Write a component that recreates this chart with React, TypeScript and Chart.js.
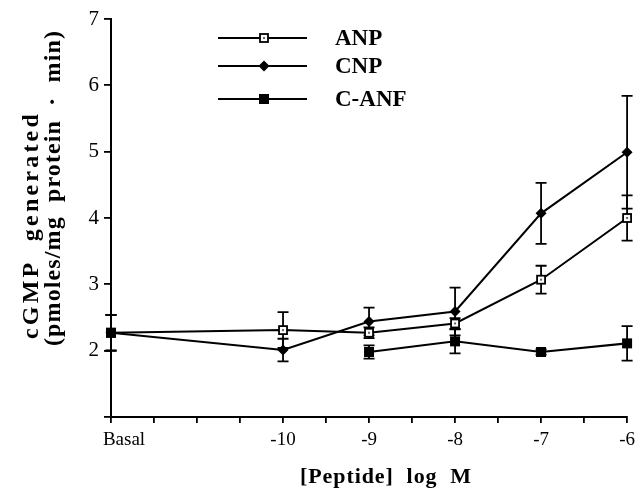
import React, { useEffect, useRef } from "react";
import { Chart, registerables } from "chart.js";

Chart.register(...registerables);

const xValues = [-12, -10, -9, -8, -7, -6];
const anpValues = [2.27, 2.31, 2.27, 2.41, 3.07, 4.0];
const anpErrors = [0.27, 0.27, 0.08, 0.08, 0.21, 0.34];
const cnpValues = [2.27, 2.01, 2.44, 2.59, 4.07, 4.99];
const cnpErrors = [0.27, 0.17, 0.21, 0.36, 0.46, 0.85];
const canfValues: (number | null)[] = [2.27, null, 1.98, 2.14, 1.98, 2.11];
const canfErrors: (number | null)[] = [0.27, null, 0.1, 0.18, 0.04, 0.26];

const xTickValues = [-12, -10, -9, -8, -7, -6];
const xTickLabels = ["Basal", "-10", "-9", "-8", "-7", "-6"];
const yTickValues = [2, 3, 4, 5, 6, 7];

const seriesNames = ["ANP", "CNP", "C-ANF"];
const xTitle = "[Peptide]  log  M";
const yTitleLines = ["cGMP  generated", "(pmoles/mg  protein  ·  min)"];

const SERIF = "'Liberation Serif', 'Times New Roman', serif";

function toPoints(vals: (number | null)[]) {
  return xValues.map((x, i) => ({ x, y: vals[i] }));
}

const errorSets = [anpErrors, cnpErrors, canfErrors];

function drawMarker(ctx: CanvasRenderingContext2D, style: string, x: number, y: number) {
  ctx.save();
  ctx.lineWidth = 1.8;
  ctx.strokeStyle = "#000";
  if (style === "open") {
    ctx.fillStyle = "#fff";
    ctx.fillRect(x - 4, y - 4, 8, 8);
    ctx.strokeRect(x - 4, y - 4, 8, 8);
    ctx.fillStyle = "#666";
    ctx.fillRect(x - 1, y - 1, 2, 2);
  } else if (style === "diamond") {
    ctx.fillStyle = "#000";
    ctx.beginPath();
    ctx.moveTo(x, y - 5.5);
    ctx.lineTo(x + 5.5, y);
    ctx.lineTo(x, y + 5.5);
    ctx.lineTo(x - 5.5, y);
    ctx.closePath();
    ctx.fill();
  } else {
    ctx.fillStyle = "#000";
    ctx.fillRect(x - 5, y - 5, 10, 10);
  }
  ctx.restore();
}

const markerStyles = ["open", "diamond", "square"];

function fitText(ctx: CanvasRenderingContext2D, text: string, target: number) {
  (ctx as any).letterSpacing = "0px";
  const w = ctx.measureText(text).width;
  const ls = Math.max(0, (target - w) / text.length);
  (ctx as any).letterSpacing = `${ls}px`;
}

const customPlugin = {
  id: "customDraw",
  beforeDatasetsDraw(chart: any) {
    const ctx = chart.ctx as CanvasRenderingContext2D;
    const xs = chart.scales.x;
    const ys = chart.scales.y;
    ctx.save();
    ctx.strokeStyle = "#000";
    ctx.lineWidth = 1.8;
    chart.data.datasets.forEach((ds: any, di: number) => {
      const errs = errorSets[di];
      ds.data.forEach((p: any, i: number) => {
        const e = errs[i];
        if (p.y == null || e == null) return;
        const px = xs.getPixelForValue(p.x);
        const top = ys.getPixelForValue(p.y + e);
        const bot = ys.getPixelForValue(p.y - e);
        ctx.beginPath();
        ctx.moveTo(px, top);
        ctx.lineTo(px, bot);
        ctx.moveTo(px - 5.5, top);
        ctx.lineTo(px + 5.5, top);
        ctx.moveTo(px - 5.5, bot);
        ctx.lineTo(px + 5.5, bot);
        ctx.stroke();
      });
    });
    ctx.restore();
  },
  afterDatasetsDraw(chart: any) {
    const ctx = chart.ctx as CanvasRenderingContext2D;
    const xs = chart.scales.x;
    const ys = chart.scales.y;
    // markers
    chart.data.datasets.forEach((ds: any, di: number) => {
      ds.data.forEach((p: any) => {
        if (p.y == null) return;
        drawMarker(ctx, markerStyles[di], xs.getPixelForValue(p.x), ys.getPixelForValue(p.y));
      });
    });
    ctx.save();
    // "Basal" label, nudged right of its tick as in the original
    ctx.fillStyle = "#000";
    ctx.font = `19px ${SERIF}`;
    ctx.textAlign = "center";
    ctx.textBaseline = "middle";
    ctx.fillText(xTickLabels[0], xs.getPixelForValue(xTickValues[0]) + 13, 440);
    // legend
    const rows = [38, 66, 99];
    seriesNames.forEach((name, i) => {
      ctx.strokeStyle = "#000";
      ctx.lineWidth = 2;
      ctx.beginPath();
      ctx.moveTo(218, rows[i]);
      ctx.lineTo(307, rows[i]);
      ctx.stroke();
      drawMarker(ctx, markerStyles[i], 264, rows[i]);
      ctx.fillStyle = "#000";
      ctx.font = `bold 23px ${SERIF}`;
      ctx.textAlign = "left";
      ctx.textBaseline = "middle";
      ctx.fillText(name, 335, rows[i] + 1);
    });
    // axis titles
    ctx.font = `bold 22px ${SERIF}`;
    ctx.textBaseline = "middle";
    ctx.textAlign = "center";
    fitText(ctx, xTitle, 172);
    ctx.fillText(xTitle, 386, 477);
    ctx.font = `bold 24px ${SERIF}`;
    ctx.save();
    ctx.translate(32, 339);
    ctx.rotate(-Math.PI / 2);
    ctx.textAlign = "left";
    fitText(ctx, yTitleLines[0], 228);
    ctx.fillText(yTitleLines[0], 0, 0);
    ctx.restore();
    ctx.save();
    ctx.translate(54, 346);
    ctx.rotate(-Math.PI / 2);
    ctx.textAlign = "left";
    fitText(ctx, yTitleLines[1], 316);
    ctx.fillText(yTitleLines[1], 0, 0);
    ctx.restore();
    (ctx as any).letterSpacing = "0px";
    ctx.restore();
  },
};

export default function App() {
  const ref = useRef<HTMLCanvasElement | null>(null);
  useEffect(() => {
    document.body.style.margin = "0";
    const canvas = ref.current!;
    const chart = new Chart(canvas, {
      type: "scatter",
      data: {
        datasets: [
          { label: seriesNames[0], data: toPoints(anpValues) },
          { label: seriesNames[1], data: toPoints(cnpValues) },
          { label: seriesNames[2], data: toPoints(canfValues) },
        ].map((d) => ({
          ...d,
          showLine: true,
          spanGaps: false,
          borderColor: "#000",
          borderWidth: 2,
          pointRadius: 0,
          pointHoverRadius: 0,
          backgroundColor: "#000",
          tension: 0,
        })),
      },
      options: {
        animation: false,
        responsive: false,
        events: [],
        layout: { padding: { top: 19, right: 10, left: 0, bottom: 0 } },
        plugins: { legend: { display: false }, tooltip: { enabled: false } },
        scales: {
          x: {
            type: "linear",
            min: -12,
            max: -6,
            afterFit: (s: any) => {
              s.height = 75;
            },
            afterBuildTicks: (s: any) => {
              const t = [];
              for (let v = -12; v <= -6; v += 0.5) t.push({ value: v });
              s.ticks = t;
            },
            border: { display: true, color: "#000", width: 2 },
            grid: { display: true, drawOnChartArea: false, drawTicks: true, tickLength: 6, color: "#000", lineWidth: 1.8 },
            ticks: {
              autoSkip: false,
              maxRotation: 0,
              padding: 6,
              color: "#000",
              font: { family: SERIF, size: 19 },
              callback: (v: any) => {
                const idx = xTickValues.indexOf(Number(v));
                return idx > 0 ? xTickLabels[idx] : "";
              },
            },
          },
          y: {
            type: "linear",
            min: 1,
            max: 7,
            afterFit: (s: any) => {
              s.width = 111;
            },
            afterBuildTicks: (s: any) => {
              s.ticks = [1, ...yTickValues].map((v) => ({ value: v }));
            },
            border: { display: true, color: "#000", width: 2 },
            grid: { display: true, drawOnChartArea: false, drawTicks: true, tickLength: 7, color: "#000", lineWidth: 1.8 },
            ticks: {
              padding: 5,
              color: "#000",
              font: { family: SERIF, size: 21 },
              callback: (v: any) => (yTickValues.includes(Number(v)) ? String(v) : ""),
            },
          },
        },
      },
      plugins: [customPlugin],
    } as any);
    return () => chart.destroy();
  }, []);
  return <canvas ref={ref} width={641} height={492} style={{ display: "block" }} />;
}
